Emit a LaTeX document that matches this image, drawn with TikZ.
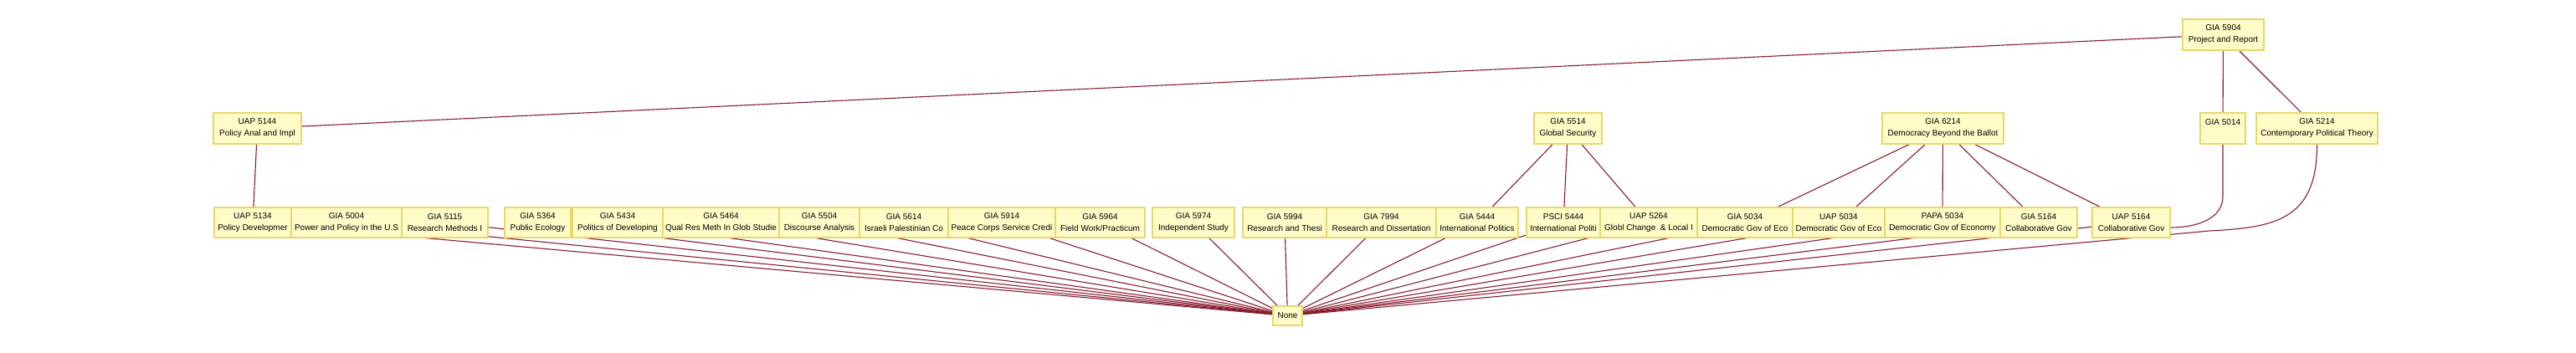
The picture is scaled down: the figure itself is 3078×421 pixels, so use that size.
\documentclass[tikz,border=0pt]{standalone}
\usepackage{fontspec}
\setmainfont{Liberation Sans}
\pgfdeclarelayer{background}
\pgfsetlayers{background,main}
\definecolor{boxfill}{RGB}{255,252,200}
\definecolor{boxline}{RGB}{232,214,110}
\definecolor{edgecol}{RGB}{135,28,48}
\tikzset{
  cbox/.style={draw=boxline, fill=boxfill, line width=1.8pt, inner sep=0pt,
    align=center, font=\fontsize{10}{14}\selectfont, anchor=center},
  ebox/.style={draw=edgecol, line width=1.1pt},
}
\begin{document}
\begin{tikzpicture}[x=1pt,y=-1pt]
\useasboundingbox (0,0) rectangle (3078,421);
% top
\node[cbox, minimum width=97pt, minimum height=37pt] (g5904) at (2656.5,41.5) {GIA 5904\\Project and Report};
% middle row
\node[cbox, minimum width=105pt, minimum height=37pt] (u5144) at (307.5,153.5) {UAP 5144\\Policy Anal and Impl};
\node[cbox, minimum width=81pt, minimum height=37pt] (g5514) at (1873.5,153.5) {GIA 5514\\Global Security};
\node[cbox, minimum width=145pt, minimum height=37pt] (g6214) at (2321.5,153.5) {GIA 6214\\Democracy Beyond the Ballot};
\node[cbox, minimum width=54pt, minimum height=37pt] (g5014) at (2656,153.5) {GIA 5014\\\mbox{}};
\node[cbox, minimum width=145pt, minimum height=37pt] (g5214) at (2768.5,153.5) {GIA 5214\\Contemporary Political Theory};
% bottom row
\node[cbox, minimum width=92pt, minimum height=36pt] (b1) at (302,266) {UAP 5134\\Policy Developmer};
\node[cbox, minimum width=132pt, minimum height=36pt] (b2) at (414,266) {GIA 5004\\Power and Policy in the U.S};
\node[cbox, minimum width=103pt, minimum height=36pt] (b3) at (531.5,266) {GIA 5115\\Research Methods I};
\node[cbox, minimum width=79pt, minimum height=36pt] (b4) at (642.5,266) {GIA 5364\\Public Ecology};
\node[cbox, minimum width=108pt, minimum height=36pt] (b5) at (738,266) {GIA 5434\\Politics of Developing};
\node[cbox, minimum width=139pt, minimum height=36pt] (b6) at (861.5,266) {GIA 5464\\Qual Res Meth In Glob Studie};
\node[cbox, minimum width=96pt, minimum height=36pt] (b7) at (979,266) {GIA 5504\\Discourse Analysis};
\node[cbox, minimum width=106pt, minimum height=36pt] (b8) at (1080,266) {GIA 5614\\Israeli Palestinian Co};
\node[cbox, minimum width=128pt, minimum height=36pt] (b9) at (1197,266) {GIA 5914\\Peace Corps Service Credi};
\node[cbox, minimum width=107pt, minimum height=36pt] (b10) at (1314.5,266) {GIA 5964\\Field Work/Practicum};
\node[cbox, minimum width=98pt, minimum height=36pt] (b11) at (1426,266) {GIA 5974\\Independent Study};
\node[cbox, minimum width=100pt, minimum height=36pt] (b12) at (1535,266) {GIA 5994\\Research and Thesi};
\node[cbox, minimum width=131pt, minimum height=36pt] (b13) at (1650.5,266) {GIA 7994\\Research and Dissertation};
\node[cbox, minimum width=98pt, minimum height=36pt] (b14) at (1765,266) {GIA 5444\\International Politics};
\node[cbox, minimum width=88pt, minimum height=36pt] (b15) at (1868,266) {PSCI 5444\\International Politi};
\node[cbox, minimum width=115pt, minimum height=36pt] (b16) at (1970,266) {UAP 5264\\Globl Change \ \& Local I};
\node[cbox, minimum width=114pt, minimum height=36pt] (b17) at (2085,266) {GIA 5034\\Democratic Gov of Eco};
\node[cbox, minimum width=110pt, minimum height=36pt] (b18) at (2197,266) {UAP 5034\\Democratic Gov of Eco};
\node[cbox, minimum width=138pt, minimum height=36pt] (b19) at (2321,266) {PAPA 5034\\Democratic Gov of Economy};
\node[cbox, minimum width=92pt, minimum height=36pt] (b20) at (2436,266) {GIA 5164\\Collaborative Gov};
\node[cbox, minimum width=93pt, minimum height=36pt] (b21) at (2546.5,266) {UAP 5164\\Collaborative Gov};
% sink
\node[cbox, minimum width=35pt, minimum height=23pt] (none) at (1538.5,377.5) {None};
\begin{pgfonlayer}{background}
\draw[ebox] (g5904) -- (u5144);
\draw[ebox] (g5904) -- (g5014);
\draw[ebox] (g5904) -- (g5214);
\draw[ebox] (u5144) -- (b1);
\draw[ebox] (g5514) -- (b14);
\draw[ebox] (g5514) -- (b15);
\draw[ebox] (g5514) -- (b16);
\draw[ebox] (g6214) -- (b17);
\draw[ebox] (g6214) -- (b18);
\draw[ebox] (g6214) -- (b19);
\draw[ebox] (g6214) -- (b20);
\draw[ebox] (g6214) -- (b21);
\draw[ebox] (g5014.south) -- ++(0,62) .. controls +(0,28) and (2622,272) .. ([yshift=-6pt]b21.east);
\coordinate (bend) at (2640,276);
\draw[ebox] (g5214.south) .. controls (2768.5,262) and (2720,272) .. (bend) -- (none);
\foreach \i in {1,...,21} { \draw[ebox] (b\i) -- (none); }
\end{pgfonlayer}
\end{tikzpicture}
\end{document}
